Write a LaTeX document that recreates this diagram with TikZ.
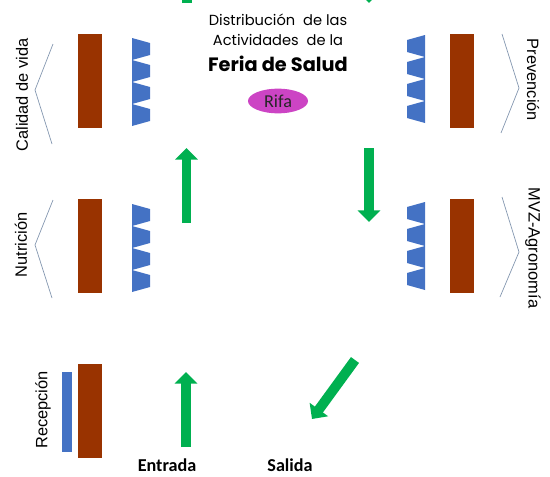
\documentclass[tikz,border=0pt]{standalone}
\usepackage{fontspec}
\setmainfont{Liberation Sans}
\newfontfamily\titlefont{Poppins}
\newfontfamily\calfont{Carlito}
\usetikzlibrary{arrows.meta, shapes.geometric}
\definecolor{boothbrown}{RGB}{153,51,0}
\definecolor{tableblue}{RGB}{68,114,196}
\definecolor{pathgreen}{RGB}{0,176,80}
\definecolor{rifapink}{RGB}{204,68,196}
\definecolor{wallgray}{RGB}{132,151,176}

% one row of four tables, long edge on the left (L) or on the right (R)
\newcommand{\tablesL}[2]{%
  \foreach \i in {0,...,3}
    \fill[tableblue] (#1,#2+22*\i) -- (#1+18,#2+22*\i+5) -- (#1+18,#2+22*\i+17) -- (#1,#2+22*\i+22) -- cycle;}
\newcommand{\tablesR}[2]{%
  \foreach \i in {0,...,3}
    \fill[tableblue] (#1+18,#2+22*\i) -- (#1,#2+22*\i+5) -- (#1,#2+22*\i+17) -- (#1+18,#2+22*\i+22) -- cycle;}

\begin{document}
\begin{tikzpicture}[x=0.03cm, y=-0.03cm]
      % Styles
      \tikzset{booth/.style={fill=boothbrown}}
      \tikzset{wall/.style={draw=wallgray, line width=0.6pt}}
      \tikzset{walk/.style={draw=pathgreen, line width=8.5pt, -{Triangle[length=10pt, width=19pt]}}}
      \tikzset{area_label/.style={font=\fontsize{14}{16}\selectfont, inner sep=0pt}}
      \tikzset{door_label/.style={font=\calfont\bfseries\fontsize{15.5}{17}\selectfont, inner sep=0pt}}

      \useasboundingbox (0,0) rectangle (550,477);
      \clip (0,0) rectangle (550,477);

      % --- Title and raffle ---
      \node[align=center, inner sep=0pt, font=\titlefont\fontsize{12.5}{17}\selectfont] (title) at (278,30)
        {Distribución\ \ de las\\ Actividades\ \ de la};
      \node[inner sep=0pt, font=\titlefont\bfseries\fontsize{16.5}{18}\selectfont] (feria) at (278,64) {Feria de Salud};
      \node[ellipse, fill=rifapink, minimum width=1.8cm, minimum height=0.74cm, inner sep=0pt,
            font=\calfont\fontsize{15.5}{17}\selectfont, text=black!85] (rifa) at (278,101) {Rifa};

      % --- Left side ---
      \draw[wall] (53,44) -- (35,90) -- (52,144);
      \fill[booth] (78,34) rectangle (102,128);
      \tablesL{132}{38}
      \node[area_label, rotate=90] (calidad) at (22,95) {Calidad de vida};

      \draw[wall] (53,200) -- (35,245) -- (52,298);
      \fill[booth] (78,199) rectangle (102,293);
      \tablesL{132}{204}
      \node[area_label, rotate=90] (nutricion) at (21,245) {Nutrición};

      \fill[tableblue] (62,372) rectangle (72,452);
      \fill[booth] (78,364) rectangle (102,458);
      \node[area_label, rotate=90] (recepcion) at (43,410) {Recepción};

      % --- Right side ---
      \draw[wall] (502,34) -- (519,88) -- (501,133);
      \fill[booth] (450,34) rectangle (474,128);
      \tablesR{407}{35}
      \node[area_label, rotate=-90] (prevencion) at (533,80) {Prevención};

      \draw[wall] (502,197) -- (519,252) -- (500,297);
      \fill[booth] (450,199) rectangle (474,293);
      \tablesR{407}{202}
      \node[area_label, rotate=-90] (mvz) at (533,248) {MVZ-Agronomía};

      % --- Way in and way out ---
      \node[door_label] (entrada) at (167,465) {Entrada};
      \node[door_label] (salida) at (290,465) {Salida};

      \coordinate (in1) at (186,447);   \coordinate (in2) at (186,372);
      \coordinate (up1) at (186.5,223); \coordinate (up2) at (186.5,148);
      \coordinate (up3) at (187,3);     \coordinate (up4) at (187,-60);
      \coordinate (dn1) at (369,-60);   \coordinate (dn2) at (369,3);
      \coordinate (dn3) at (369,148);   \coordinate (dn4) at (369,222);
      \coordinate (out1) at (355,360);  \coordinate (out2) at (312,419);

      \draw[walk] (in1) -- (in2);
      \draw[walk] (up1) -- (up2);
      \draw[walk] (up3) -- (up4);
      \draw[walk] (dn1) -- (dn2);
      \draw[walk] (dn3) -- (dn4);
      \draw[walk] (out1) -- (out2);
    \end{tikzpicture}
\end{document}
